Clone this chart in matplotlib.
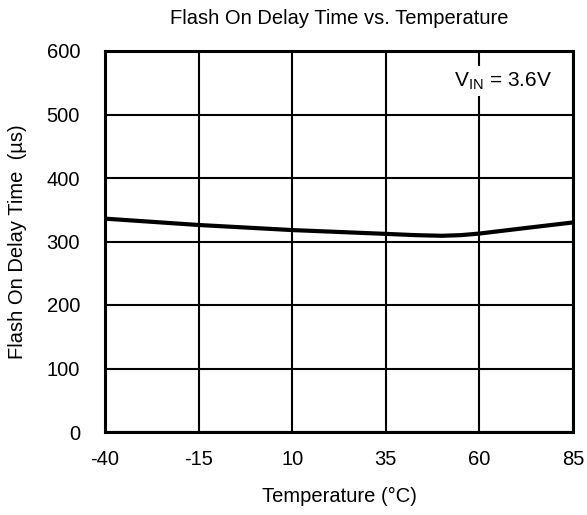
import numpy as np
import matplotlib
matplotlib.use('Agg')
import matplotlib.pyplot as plt

plt.rcParams['font.family'] = ['Liberation Sans', 'DejaVu Sans']
plt.rcParams['mathtext.fontset'] = 'custom'
plt.rcParams['mathtext.rm'] = 'Liberation Sans'
plt.rcParams['axes.unicode_minus'] = False

# data
temp = [-40, -15, 10, 35, 43, 50, 55, 60, 72, 85]
delay = [336, 326, 318, 312, 310, 309, 310, 312.5, 321, 330]

xticks = [-40, -15, 10, 35, 60, 85]
yticks = [0, 100, 200, 300, 400, 500, 600]

fig = plt.figure(figsize=(5.87, 5.15), dpi=100)
ax = fig.add_axes([105/587, 1 - 432/515, (573-105)/587, (432-51)/515])

ax.plot(temp, delay, color='black', lw=3, solid_capstyle='butt')

ax.set_xlim(-40, 85)
ax.set_ylim(0, 600)
ax.set_xticks(xticks)
ax.set_yticks(yticks)
ax.grid(True, color='black', lw=1.5)
ax.tick_params(length=0, labelsize=14.5)
ax.tick_params(axis='y', pad=18)
ax.tick_params(axis='x', pad=13)
for s in ax.spines.values():
    s.set_linewidth(2.2)

ax.set_title('Flash On Delay Time vs. Temperature', fontsize=14.5, y=1.084, va='center', pad=0)
ax.set_xlabel('Temperature (\u00b0C)', fontsize=14.5, va='center')
ax.xaxis.set_label_coords(0.5, -0.170)
ax.set_ylabel('Flash On Delay Time  (\u00b5s)', fontsize=14.5, va='center')
ax.yaxis.set_label_coords(-0.188, 0.5)

ax.text(79.4, 553, r'V$_{\mathrm{IN}}$ = 3.6V', fontsize=15, ha='right', va='center',
        bbox=dict(facecolor='white', edgecolor='none', pad=3))

plt.savefig('out.png', dpi=100)
